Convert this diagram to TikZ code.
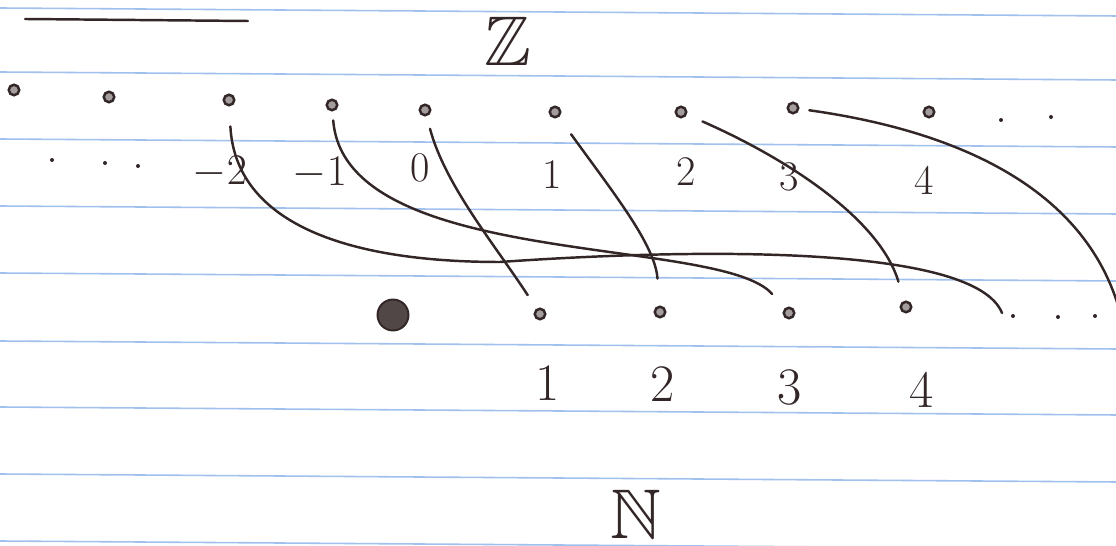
\documentclass[tikz,border=0pt]{standalone}
\usepackage{amsmath, amssymb}
\usetikzlibrary{positioning}
\definecolor{ink}{RGB}{50,38,38}
\definecolor{ruled}{RGB}{160,192,238}
\tikzset{>=latex}
\tikzset{
  pnt/.style={circle, draw=ink, fill=ink!45, line width=1.4pt, inner sep=0pt, minimum size=0.21cm},
  bigpnt/.style={circle, draw=ink, fill=ink!85, line width=1.1pt, inner sep=0pt, minimum size=0.62cm},
  speck/.style={circle, fill=ink, inner sep=0pt, minimum size=0.08cm},
  zlabel/.style={text=ink, inner sep=0pt, font=\fontsize{24}{28}\selectfont},
  nlabel/.style={text=ink, inner sep=0pt, font=\fontsize{30}{34}\selectfont},
  setname/.style={text=ink, inner sep=0pt, font=\fontsize{40}{44}\selectfont},
  map/.style={draw=ink, line width=1.4pt, line cap=round},
  ruleline/.style={draw=ruled, line width=0.9pt}
}

\begin{document}
\begin{tikzpicture}[x=0.02cm, y=-0.02cm]
  \useasboundingbox (0,0) rectangle (1116,546);
  % ruled paper
  \foreach \y in {8,72,139,206,273,341,407,474,541}
    \draw[ruleline] (0,\y) -- (1116,\y+8);
  \draw[map] (25,19) -- (248,21);
  % the integers
  \node[setname] (Z) at (508,41) {$\mathbb{Z}$};
  \node[pnt] (zm4) at (14,90) {};
  \node[pnt] (zm3) at (109,97) {};
  \foreach \nm/\x/\y/\lx/\ly/\t in {zm2/229/100/220/172/$-2$, zm1/332/105/320/173/$-1$,
      z0/425/110/420/168/0, z1/555/112/552/175/1, z2/681/112/686/172/2,
      z3/793/108/789/177/3, z4/929/112/924/180/4}
  {
    \node[pnt] (\nm) at (\x,\y) {};
    \node[zlabel] (l\nm) at (\lx,\ly) {\t};
  }
  \foreach \x/\y [count=\i] in {52/160, 105/163, 138/166}
    \node[speck] (zdl\i) at (\x,\y) {};
  \foreach \x/\y [count=\i] in {1001/120, 1051/117}
    \node[speck] (zdr\i) at (\x,\y) {};
  % the naturals
  \node[setname] (N) at (636,514) {$\mathbb{N}$};
  \node[bigpnt] (n0) at (393,315) {};
  \foreach \nm/\x/\y/\lx/\ly/\t in {n1/540/314/548/383/1, n2/660/312/663/384/2,
      n3/789/313/790/388/3, n4/906/307/922/390/4}
  {
    \node[pnt] (\nm) at (\x,\y) {};
    \node[nlabel] (l\nm) at (\lx,\ly) {\t};
  }
  \foreach \x/\y [count=\i] in {1013/316, 1058/317, 1095/316}
    \node[speck] (ndr\i) at (\x,\y) {};
  \coordinate (n5) at (1002,313);
  \coordinate (n6) at (1122,320);
  \coordinate (mid5) at (500,262);
  % the bijection
  \draw[map, shorten <=0.26cm, shorten >=0.32cm] (z0) .. controls (445,185) and (495,245) .. (n1);
  \draw[map, shorten <=0.42cm, shorten >=0.54cm] (z1) .. controls (615,195) and (655,245) .. (n2);
  \draw[map, shorten <=0.18cm, shorten >=0.38cm] (zm1) .. controls (345,270) and (720,235) .. (n3);
  \draw[map, shorten <=0.34cm, shorten >=0.40cm] (z2) .. controls (790,160) and (880,220) .. (n4);
  \draw[map, shorten <=0.40cm] (zm2) .. controls (235,215) and (330,262) .. (mid5)
    .. controls (700,248) and (975,245) .. (n5);
  \draw[map, shorten <=0.20cm] (z3) .. controls (950,130) and (1090,185) .. (n6);
\end{tikzpicture}
\end{document}
